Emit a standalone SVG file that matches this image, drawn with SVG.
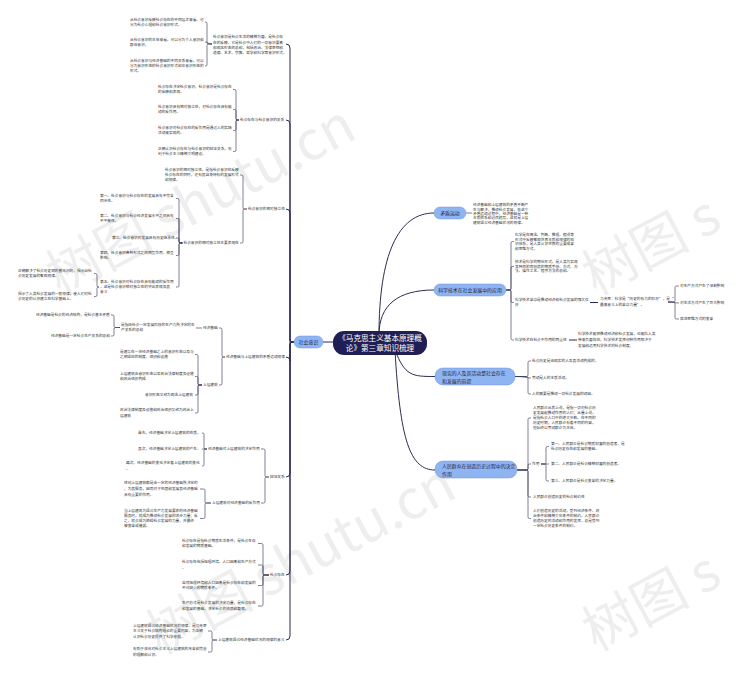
<svg xmlns="http://www.w3.org/2000/svg" width="743" height="675" viewBox="0 0 743 675">
<style>
.t{font-family:"Noto Sans CJK SC","Noto Sans",sans-serif;font-size:3.7px;fill:#333}
.n{font-family:"Noto Sans CJK SC","Noto Sans",sans-serif;font-size:4.9px;fill:#1e1e40}
.c{font-family:"Noto Sans CJK SC","Noto Sans",sans-serif;font-size:7.6px;fill:#fff;text-anchor:middle}
.ln{fill:none;stroke:#2b2b52;stroke-width:0.6}
.mn{fill:none;stroke:#2b2b52;stroke-width:1}
.bx{fill:#8fb4f2;stroke:#6f97dc;stroke-width:0.5}
.wm{font-family:"Noto Sans CJK SC","Noto Sans",sans-serif;font-size:54px;fill:#9a9a9a;opacity:0.16}
</style>
<rect width="743" height="675" fill="#fff"/>
<g id="watermarks">
<text class="wm" x="60" y="296" transform="rotate(-28 60 296)">树图 shutu.cn</text>
<text class="wm" x="160" y="655" transform="rotate(-28 160 655)">树图 shutu.cn</text>
<text class="wm" x="596" y="296" transform="rotate(-28 596 296)">树图 s</text>
<text class="wm" x="596" y="652" transform="rotate(-28 596 652)">树图 s</text>
</g>
<g id="connectors">
<path class="mn" d="M333 342H323"/>
<path class="mn" d="M379 335C379 255 398 213 434 213"/>
<path class="mn" d="M379 335C379 305 398 290 434 290"/>
<path class="mn" d="M395 350C405 376 412 376.5 435 376.5"/>
<path class="mn" d="M395 350C400 440 410 470 435 470"/>
<path class="mn" d="M294 342H292Q290 342 290 339V48Q290 44 286 44"/>
<path class="mn" d="M294 342H292Q290 342 290 339V124Q290 120 286 120"/>
<path class="mn" d="M294 342H292Q290 342 290 339V213Q290 209 286 209"/>
<path class="mn" d="M294 342H292Q290 342 290 339V361Q290 357 286 357"/>
<path class="mn" d="M294 342H292Q290 342 290 345V473Q290 477 286 477"/>
<path class="mn" d="M294 342H292Q290 342 290 345V571Q290 575 286 575"/>
<path class="mn" d="M294 342H292Q290 342 290 345V636Q290 640 286 640"/>
<path class="ln" d="M212 44H208.5Q207 44 207 42.5V23.5Q207 22 205.5 22H205"/>
<path class="ln" d="M212 44C208 44 208 42 205 42"/>
<path class="ln" d="M212 44H208.5Q207 44 207 45.5V64.5Q207 66 205.5 66H205"/>
<path class="ln" d="M239 120H237.5Q236 120 236 118.5V91Q236 89.5 234.5 89.5H233"/>
<path class="ln" d="M239 120H237.5Q236 120 236 118.5V111Q236 109.5 234.5 109.5H233"/>
<path class="ln" d="M239 120H237.5Q236 120 236 121.5V129Q236 130.5 234.5 130.5H233"/>
<path class="ln" d="M239 120H237.5Q236 120 236 121.5V150Q236 151.5 234.5 151.5H233"/>
<path class="ln" d="M247 209H244.5Q243 209 243 207.5V176.5Q243 175 241.5 175H240"/>
<path class="ln" d="M247 209H244.5Q243 209 243 210.5V241.5Q243 243 241.5 243H240"/>
<path class="ln" d="M182.5 243H180.5Q179 243 179 241.5V200Q179 198.5 177.5 198.5H176"/>
<path class="ln" d="M182.5 243H180.5Q179 243 179 241.5V220Q179 218.5 177.5 218.5H176"/>
<path class="ln" d="M182.5 243H180.5Q179 243 179 241.5V239.5Q179 238 177.5 238H176"/>
<path class="ln" d="M182.5 243H180.5Q179 243 179 244.5V254Q179 255.5 177.5 255.5H176"/>
<path class="ln" d="M182.5 243H180.5Q179 243 179 244.5V285.5Q179 287 177.5 287H176"/>
<path class="ln" d="M99 287H98.5Q97 287 97 285.5V275Q97 273.5 95.5 273.5H94"/>
<path class="ln" d="M99 287H98.5Q97 287 97 288.5V295Q97 296.5 95.5 296.5H94"/>
<path class="ln" d="M225 357H223.5Q222 357 222 355.5V329.5Q222 328 220.5 328H219"/>
<path class="ln" d="M225 357H223.5Q222 357 222 358.5V383.5Q222 385 220.5 385H219"/>
<path class="ln" d="M202 328H196"/>
<path class="ln" d="M120 327.5H115.5Q114 327.5 114 326V316.5Q114 315 112.5 315H111"/>
<path class="ln" d="M120 327.5H115.5Q114 327.5 114 329V334.5Q114 336 112.5 336H111"/>
<path class="ln" d="M202 385H199.5Q198 385 198 383.5V356Q198 354.5 196.5 354.5H195"/>
<path class="ln" d="M202 385H199.5Q198 385 198 383.5V378Q198 376.5 196.5 376.5H195"/>
<path class="ln" d="M202 385H199.5Q198 385 198 386.5V393.5Q198 395 196.5 395H195"/>
<path class="ln" d="M202 385H199.5Q198 385 198 386.5V411.5Q198 413 196.5 413H195"/>
<path class="ln" d="M269 477H266.5Q265 477 265 475.5V450.5Q265 449 263.5 449H261"/>
<path class="ln" d="M269 477H266.5Q265 477 265 478.5V501.5Q265 503 263.5 503H261"/>
<path class="ln" d="M207 449H205.5Q204 449 204 447.5V434.5Q204 433 202.5 433H202"/>
<path class="ln" d="M207 449H202"/>
<path class="ln" d="M207 449H205.5Q204 449 204 450.5V464.5Q204 466 202.5 466H202"/>
<path class="ln" d="M211 503H206.5Q205 503 205 501.5V490.5Q205 489 203.5 489H200"/>
<path class="ln" d="M211 503H206.5Q205 503 205 504.5V517Q205 518.5 203.5 518.5H200"/>
<path class="ln" d="M269 575H264.5Q263 575 263 573.5V545Q263 543.5 261.5 543.5H258"/>
<path class="ln" d="M269 575H264.5Q263 575 263 573.5V566.5Q263 565 261.5 565H258"/>
<path class="ln" d="M269 575H264.5Q263 575 263 576.5V584Q263 585.5 261.5 585.5H258"/>
<path class="ln" d="M269 575H264.5Q263 575 263 576.5V604.5Q263 606 261.5 606H258"/>
<path class="ln" d="M217 640H213.5Q212 640 212 638.5V632.5Q212 631 210.5 631H208"/>
<path class="ln" d="M217 640H213.5Q212 640 212 641.5V650.5Q212 652 210.5 652H208"/>
<path class="ln" d="M466 213H472"/>
<path class="ln" d="M506 290H509.5Q511 290 511 288.5V243Q511 241.5 512.5 241.5H514"/>
<path class="ln" d="M506 290H509.5Q511 290 511 288.5V268Q511 266.5 512.5 266.5H514"/>
<path class="ln" d="M506 290H509.5Q511 290 511 291.5V301Q511 302.5 512.5 302.5H514"/>
<path class="ln" d="M506 290H509.5Q511 290 511 291.5V338.5Q511 340 512.5 340H514"/>
<path class="mn" d="M590 302.5H598"/>
<path class="ln" d="M668 302H673.5Q675 302 675 300.5V287.5Q675 286 676.5 286H679"/>
<path class="ln" d="M668 302C673 302 674 303 679 303"/>
<path class="ln" d="M668 302H673.5Q675 302 675 303.5V317.5Q675 319 676.5 319H679"/>
<path class="mn" d="M569 340H577"/>
<path class="ln" d="M515 376.5H526.5Q528 376.5 528 375V362.5Q528 361 529.5 361H531"/>
<path class="ln" d="M515 376.5C524 376.5 526 378 531 378"/>
<path class="ln" d="M515 376.5H526.5Q528 376.5 528 378V392.5Q528 394 529.5 394H531"/>
<path class="ln" d="M517 470H526.5Q528 470 528 468.5V419.5Q528 418 529.5 418H531"/>
<path class="ln" d="M517 470H526.5Q528 470 528 468.5V465.5Q528 464 529.5 464H531"/>
<path class="ln" d="M517 470H526.5Q528 470 528 471.5V495.5Q528 497 529.5 497H531"/>
<path class="ln" d="M517 470H526.5Q528 470 528 471.5V517Q528 518.5 529.5 518.5H531"/>
<path class="ln" d="M541 464H544.5Q546 464 546 462.5V448Q546 446.5 547.5 446.5H549"/>
<path class="ln" d="M541 464H549"/>
<path class="ln" d="M541 464H544.5Q546 464 546 465.5V479.5Q546 481 547.5 481H549"/>
</g>
<g id="root">
<rect x="333" y="331" width="94" height="24" rx="11" fill="#1f1f55"/>
<text class="c" x="380" y="341">《马克思主义基本原理概</text>
<text class="c" x="380" y="350.5">论》第三章知识梳理</text>
</g>
<g id="n-shehuiyishi">
<rect class="bx" x="294" y="336" width="29" height="12" rx="6"/>
<text class="n" x="298.7" y="343.8">社会意识</text>
</g>
<g id="n-a">
<text class="t" x="213" y="38.3">社会意识是社会生活的精神方面，是社会存</text>
<text class="t" x="213" y="43.5">在的反映。它是社会中人们的一切意识要素</text>
<text class="t" x="213" y="48.7">和观念形态的总和，包括政治、法律思想和</text>
<text class="t" x="213" y="53.9">道德、艺术、宗教、哲学和科学等意识形式。</text>
</g>
<g id="n-a1"><text class="t" x="130" y="21.3">从社会意识反映社会存在的不同层次来看，可</text><text class="t" x="130" y="26.3">分为社会心理和社会意识形式。</text></g>
<g id="n-a2"><text class="t" x="130" y="41.3">从社会意识的主体来看，可以分为个人意识和</text><text class="t" x="130" y="46.3">群体意识。</text></g>
<g id="n-a3"><text class="t" x="130" y="62.3">从社会意识与经济基础的不同关系来看，可以</text><text class="t" x="130" y="67.3">分为意识形态的社会意识形式和非意识形态的</text><text class="t" x="130" y="72.3">形式。</text></g>
<g id="n-s2"><text class="t" x="240" y="121.3">社会存在与社会意识的关系</text></g>
<g id="n-s2a"><text class="t" x="158" y="88.3">社会存在决定社会意识，社会意识是社会存在</text><text class="t" x="158" y="93.3">的反映和表现。</text></g>
<g id="n-s2b"><text class="t" x="158" y="108.3">社会意识具有相对独立性，对社会存在具有能</text><text class="t" x="158" y="113.3">动的反作用。</text></g>
<g id="n-s2c"><text class="t" x="158" y="129.3">社会意识对社会存在的反作用是通过人的实践</text><text class="t" x="158" y="134.3">活动来实现的。</text></g>
<g id="n-s2d"><text class="t" x="158" y="150.3">正确认识社会存在与社会意识的辩证关系，有</text><text class="t" x="158" y="155.3">利于社会主义精神文明建设。</text></g>
<g id="n-s3"><text class="t" x="248" y="210.3">社会意识的相对独立性</text></g>
<g id="n-s3a"><text class="t" x="165" y="171.3">社会意识的相对独立性，是指社会意识在反映</text><text class="t" x="165" y="176.3">社会存在的同时，还有其自身特有的发展形式</text><text class="t" x="165" y="181.3">和规律。</text></g>
<g id="n-s3b"><text class="t" x="183.5" y="244.3">社会意识的相对独立性主要表现在</text></g>
<g id="n-s3b1"><text class="t" x="100" y="197.3">第一、社会意识与社会存在的发展具有不完全</text><text class="t" x="100" y="202.3">同步性。</text></g>
<g id="n-s3b2"><text class="t" x="100" y="217.3">第二、社会意识与社会经济发展水平之间具有</text><text class="t" x="100" y="222.3">不平衡性。</text></g>
<g id="n-s3b3"><text class="t" x="112" y="239.3">第三、社会意识的发展具有历史继承性。</text></g>
<g id="n-s3b4"><text class="t" x="100" y="254.3">第四、社会意识各种形式之间相互作用、相互</text><text class="t" x="100" y="259.3">影响。</text></g>
<g id="n-s3b5"><text class="t" x="100" y="283.3">第五、社会意识对社会存在具有能动的反作用</text><text class="t" x="100" y="288.3">，这是社会意识相对独立性的突出表现及其</text><text class="t" x="100" y="293.3">意义</text></g>
<g id="n-s3b5a"><text class="t" x="18" y="272.3">正确解决了社会历史观的基本问题，揭示出社</text><text class="t" x="18" y="277.3">会历史发展的客观规律。</text></g>
<g id="n-s3b5b"><text class="t" x="18" y="295.3">揭示了人类社会发展的一般规律，使人们对社</text><text class="t" x="18" y="300.3">会历史的认识建立在科学基础上。</text></g>
<g id="n-s4"><text class="t" x="226" y="358.3">经济基础与上层建筑的矛盾运动规律</text></g>
<g id="n-s4a"><text class="t" x="203" y="329.3">经济基础</text></g>
<g id="n-s4a1"><text class="t" x="121" y="326.3">是指由社会一定发展阶段的生产力所决定的生</text><text class="t" x="121" y="331.3">产关系的总和</text></g>
<g id="n-s4a1a"><text class="t" x="36" y="316.3">经济基础是社会的经济结构，是社会基本矛盾</text></g>
<g id="n-s4a1b"><text class="t" x="51" y="337.3">经济基础是一定社会生产关系的总和</text></g>
<g id="n-s4b"><text class="t" x="203" y="386.3">上层建筑</text></g>
<g id="n-s4b1"><text class="t" x="120" y="353.3">是建立在一定经济基础之上的意识形态以及与</text><text class="t" x="120" y="358.3">之相适应的制度、组织和设施</text></g>
<g id="n-s4b2"><text class="t" x="120" y="375.3">上层建筑由意识形态以及政治法律制度及设施</text><text class="t" x="120" y="380.3">和政治组织构成</text></g>
<g id="n-s4b3"><text class="t" x="145" y="396.3">意识形态又称为观念上层建筑</text></g>
<g id="n-s4b4"><text class="t" x="120" y="411.3">政治法律制度及设施和政治组织又称为政治上</text><text class="t" x="120" y="416.8">层建筑</text></g>
<g id="n-s5"><text class="t" x="270" y="478.3">辩证关系</text></g>
<g id="n-s5a"><text class="t" x="208" y="450.3">经济基础对上层建筑的决定作用</text></g>
<g id="n-s5a1"><text class="t" x="138" y="434.3">首先，经济基础决定上层建筑的性质。</text></g>
<g id="n-s5a2"><text class="t" x="138" y="450.3">其次，经济基础决定上层建筑的产生。</text></g>
<g id="n-s5a3"><text class="t" x="126" y="464.3">再次，经济基础的变化决定着上层建筑的变化</text><text class="t" x="126" y="470.3">。</text></g>
<g id="n-s5b"><text class="t" x="212" y="504.3">上层建筑对经济基础的反作用</text></g>
<g id="n-s5b1"><text class="t" x="124" y="484.3">任何上层建筑都是由一定的经济基础所决定的</text><text class="t" x="124" y="490.3">，为其服务，因而对于巩固和发展其经济基础</text><text class="t" x="124" y="496.3">具有重要的作用。</text></g>
<g id="n-s5b2"><text class="t" x="124" y="512.3">当上层建筑为适合生产力发展要求的经济基础</text><text class="t" x="124" y="517.3">服务时，就成为推动社会发展的进步力量；反</text><text class="t" x="124" y="522.3">之，就会成为阻碍社会发展的力量，并最终</text><text class="t" x="124" y="527.3">被变革或摧毁。</text></g>
<g id="n-s6"><text class="t" x="270" y="576.3">社会存在</text></g>
<g id="n-s6a"><text class="t" x="182" y="542.3">社会存在是指社会物质生活条件，是社会生存</text><text class="t" x="182" y="547.3">和发展的物质基础。</text></g>
<g id="n-s6b"><text class="t" x="182" y="563.3">社会存在包括地理环境、人口因素和生产方式</text><text class="t" x="182" y="569.3">。</text></g>
<g id="n-s6c"><text class="t" x="182" y="584.3">自然地理环境和人口因素是社会存在和发展的</text><text class="t" x="182" y="589.3">不可缺少的物质条件。</text></g>
<g id="n-s6d"><text class="t" x="182" y="604.3">生产方式是社会发展的决定力量，是社会存在</text><text class="t" x="182" y="610.3">和发展的基础，决定社会的性质和面貌。</text></g>
<g id="n-s7"><text class="t" x="218" y="641.3">上层建筑适合经济基础状况的规律的意义</text></g>
<g id="n-s7a"><text class="t" x="133" y="627.3">上层建筑适合经济基础状况的规律，是马克思</text><text class="t" x="133" y="632.3">主义关于社会结构理论的重要内容，为正确</text><text class="t" x="133" y="638.3">认识社会历史提供了科学依据。</text></g>
<g id="n-s7b"><text class="t" x="133" y="650.3">有助于深化对社会主义上层建筑的改革和完善</text><text class="t" x="133" y="656.3">的理解和认识。</text></g>
<g id="n-r1">
<rect class="bx" x="434" y="207" width="32" height="12" rx="6"/>
<text class="n" x="440.2" y="214.8">矛盾运动</text>
</g>
<g id="n-r1a"><text class="t" x="473" y="206.3">经济基础和上层建筑的矛盾不断产</text><text class="t" x="473" y="210.6">生与解决，推动社会发展，在这个</text><text class="t" x="473" y="214.9">矛盾运动过程中，经济基础是一种</text><text class="t" x="473" y="219.2">本质联系和必然趋势，这就是上层</text><text class="t" x="473" y="223.5">建筑适合经济基础状况的规律。</text></g>
<g id="n-r2">
<rect class="bx" x="434" y="284" width="72" height="12" rx="6"/>
<text class="n" x="438.2" y="291.8">科学技术在社会发展中的应用</text>
</g>
<g id="n-r2a"><text class="t" x="515" y="236.3">科学是在概念、判断、推理、假说等</text><text class="t" x="515" y="240.8">形式中反映客观世界本质和规律的知</text><text class="t" x="515" y="245.3">识体系，是人类认识世界的重要成果</text><text class="t" x="515" y="249.8">和思维方式。</text></g>
<g id="n-r2b"><text class="t" x="515" y="263.3">技术是科学的物化形式，是人类为实现</text><text class="t" x="515" y="267.8">某种目的而创造的物质手段、方式、方</text><text class="t" x="515" y="272.3">法、操作工艺、程序方法的总和。</text></g>
<g id="n-r2c"><text class="t" x="515" y="301.3">科学技术革命是推动经济和社会发展的强大杠</text><text class="t" x="515" y="306.3">杆</text></g>
<g id="n-r2c1"><text class="t" x="600" y="300.3">马克思：科学是“历史的有力的杠杆”，是“</text><text class="t" x="600" y="306.3">最高意义上的革命力量”。</text></g>
<g id="n-r2c1a"><text class="t" x="680" y="287.3">对生产方式产生了深刻影响</text></g>
<g id="n-r2c1b"><text class="t" x="680" y="304.3">对生活方式产生了巨大影响</text></g>
<g id="n-r2c1c"><text class="t" x="680" y="320.3">促进思维方式的变革</text></g>
<g id="n-r2d"><text class="t" x="515" y="341.3">科学技术在社会中作用的两重性</text></g>
<g id="n-r2d1"><text class="t" x="578" y="335.3">科学技术能够推动经济和社会发展，也能给人类</text><text class="t" x="578" y="341.3">带来负面效应，科学技术发挥何种作用取决于</text><text class="t" x="578" y="347.3">发展和运用科学技术的社会制度。</text></g>
<g id="n-r3">
<rect class="bx" x="435" y="368" width="80" height="17" rx="8"/>
<text class="n" x="442" y="375.2">现实的人及其活动是社会存在</text>
<text class="n" x="442" y="382.6">和发展的前提</text>
</g>
<g id="n-r3a"><text class="t" x="532" y="362.3">社会历史是由现实的人及其活动构成的。</text></g>
<g id="n-r3b"><text class="t" x="532" y="379.3">劳动是人的本质活动。</text></g>
<g id="n-r3c"><text class="t" x="532" y="395.3">人的需要是推动一切社会发展的动因。</text></g>
<g id="n-r4">
<rect class="bx" x="435" y="461" width="82" height="17" rx="8"/>
<text class="n" x="442" y="468.2">人民群众在创造历史过程中的决定</text>
<text class="n" x="442" y="475.6">作用</text>
</g>
<g id="n-r4a"><text class="t" x="533" y="409.3">人民群众从质上说，是指一切对社会历</text><text class="t" x="533" y="414.3">史发展起推动作用的人们；从量上说，</text><text class="t" x="533" y="419.3">是指社会人口中的绝大多数。在不同的</text><text class="t" x="533" y="424.3">历史时期，人民群众有着不同的内容，</text><text class="t" x="533" y="429.3">但始终以劳动群众为主体。</text></g>
<g id="n-r4b"><text class="t" x="532" y="465.3">作用</text></g>
<g id="n-r4b1"><text class="t" x="551" y="445.3">第一、人民群众是社会物质财富的创造者，是</text><text class="t" x="551" y="450.3">社会历史存在和发展的基础。</text></g>
<g id="n-r4b2"><text class="t" x="551" y="465.3">第二、人民群众是社会精神财富的创造者。</text></g>
<g id="n-r4b3"><text class="t" x="551" y="482.3">第三、人民群众是社会变革的决定力量。</text></g>
<g id="n-r4c"><text class="t" x="533" y="498.3">人民群众创造历史的社会制约性</text></g>
<g id="n-r4d"><text class="t" x="533" y="512.3">人们创造历史的活动，受到经济条件、政</text><text class="t" x="533" y="517.3">治条件和精神文化条件的制约。人民群众</text><text class="t" x="533" y="522.3">创造历史的活动和作用的发挥，总是受到</text><text class="t" x="533" y="527.3">一定社会历史条件的制约。</text></g>
</svg>
